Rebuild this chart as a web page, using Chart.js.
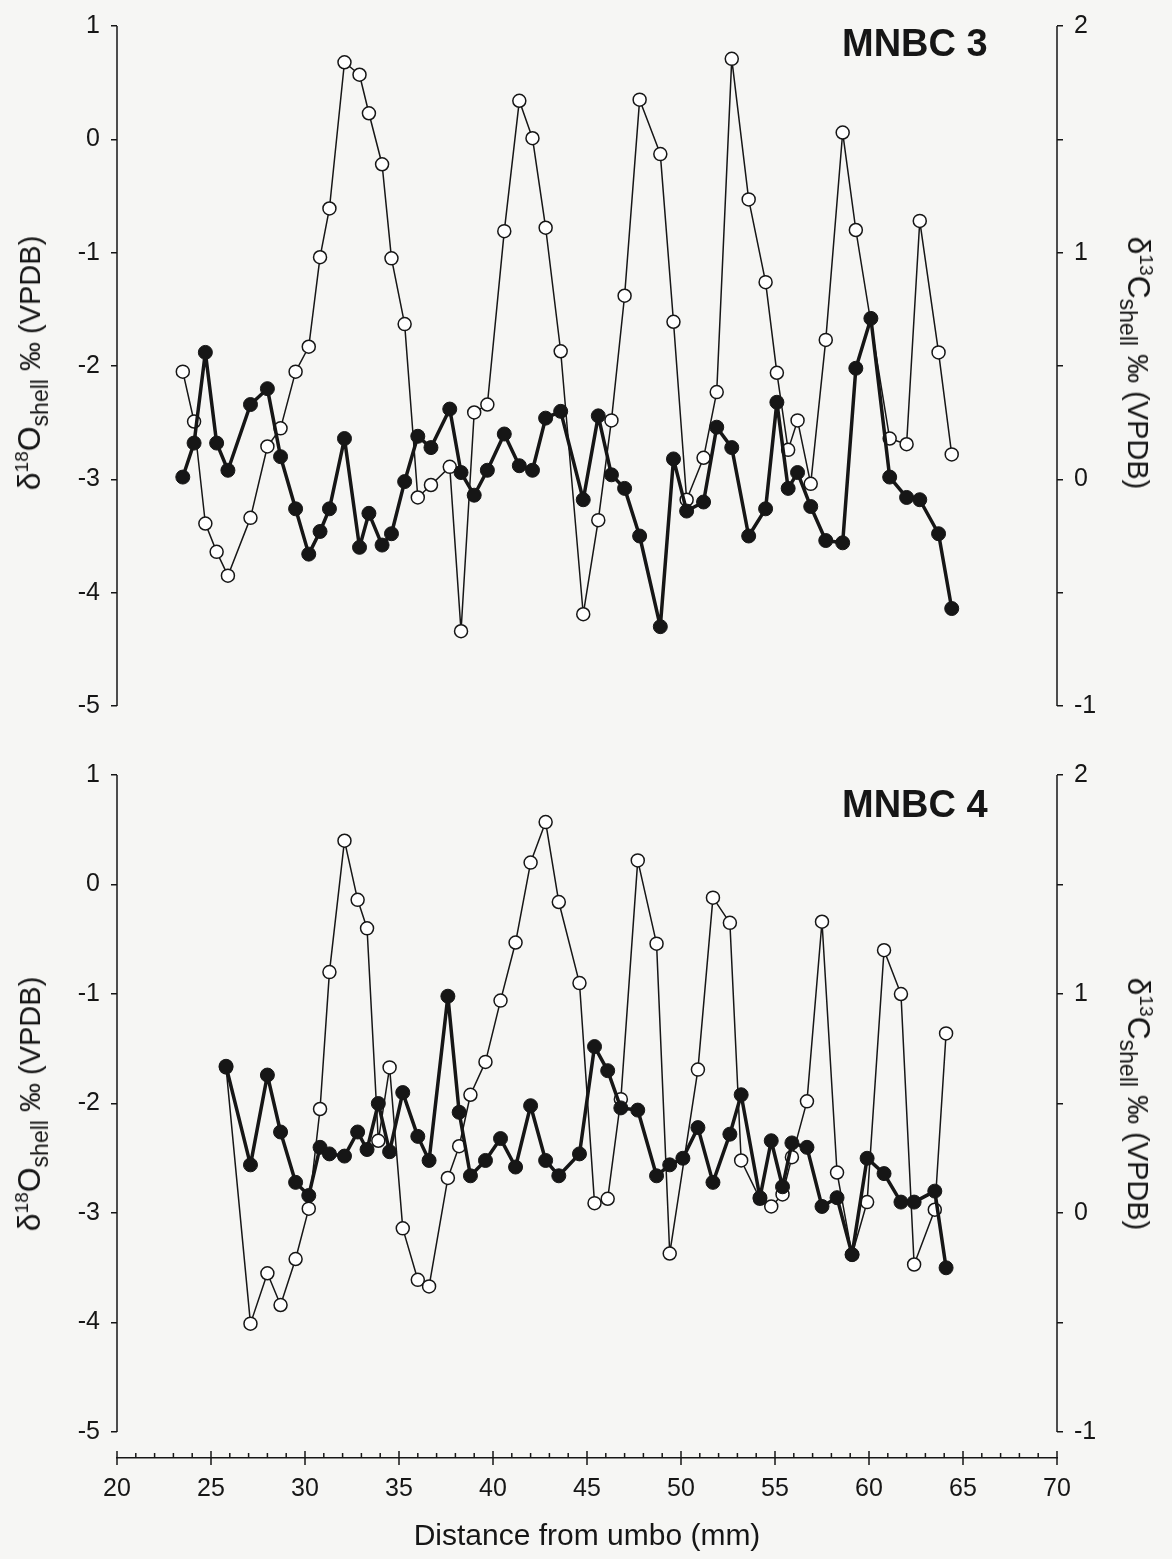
<!DOCTYPE html>
<html>
<head>
<meta charset="utf-8">
<script src="https://cdn.jsdelivr.net/npm/chart.js@4.4.1/dist/chart.umd.min.js"></script>
<style>
  html, body { margin: 0; padding: 0; background: #f6f6f4; }
  #wrap { position: relative; width: 1172px; height: 1559px; overflow: hidden;
          font-family: "Liberation Sans", Arial, sans-serif; color: #161616; }
  canvas { position: absolute; left: 0; }
  .ytitle { position: absolute; white-space: nowrap; font-size: 29px; line-height: 1; }
  .ytitle.left  { transform: translate(-50%, -50%) rotate(-90deg); }
  .ytitle.right { transform: translate(-50%, -50%) rotate(90deg); }
  .ytitle .big { font-size: 32px; }
  .ytitle sup { font-size: 19px; vertical-align: 12px; line-height: 0; }
  .ytitle sub { font-size: 23px; vertical-align: -8px; line-height: 0; }
  .panel { position: absolute; font-weight: bold; font-size: 38px; line-height: 1; }
</style>
</head>
<body>
<div id="wrap">
  <canvas id="top" width="1172" height="740" style="top:0"></canvas>
  <canvas id="bottom" width="1172" height="819" style="top:740px"></canvas>

  <div class="panel" style="left:842px; top:24px">MNBC 3</div>
  <div class="panel" style="left:842px; top:785px">MNBC 4</div>

  <div class="ytitle left" style="left:29px; top:363px"><span class="big">δ<sup>18</sup>O</span><sub>shell</sub> ‰ (VPDB)</div>
  <div class="ytitle right" style="left:1139px; top:363px"><span class="big">δ<sup>13</sup>C</span><sub>shell</sub> ‰ (VPDB)</div>
  <div class="ytitle left" style="left:29px; top:1104px"><span class="big">δ<sup>18</sup>O</span><sub>shell</sub> ‰ (VPDB)</div>
  <div class="ytitle right" style="left:1139px; top:1104px"><span class="big">δ<sup>13</sup>C</span><sub>shell</sub> ‰ (VPDB)</div>
</div>

<script>
// sample positions, mm from umbo (shared by both isotopes of a panel)
const xTop = [23.5, 24.1, 24.7, 25.3, 25.9, 27.1, 28.0, 28.7, 29.5, 30.2,
              30.8, 31.3, 32.1, 32.9, 33.4, 34.1, 34.6, 35.3, 36.0, 36.7,
              37.7, 38.3, 39.0, 39.7, 40.6, 41.4, 42.1, 42.8, 43.6, 44.8,
              45.6, 46.3, 47.0, 47.8, 48.9, 49.6, 50.3, 51.2, 51.9, 52.7,
              53.6, 54.5, 55.1, 55.7, 56.2, 56.9, 57.7, 58.6, 59.3, 60.1,
              61.1, 62.0, 62.7, 63.7, 64.4];
// MNBC 3, d18O (open circles, left axis)
const o18Top = [-2.05, -2.49, -3.39, -3.64, -3.85, -3.34, -2.71, -2.55, -2.05, -1.83,
                -1.04, -0.61, 0.68, 0.57, 0.23, -0.22, -1.05, -1.63, -3.16, -3.05,
                -2.89, -4.34, -2.41, -2.34, -0.81, 0.34, 0.01, -0.78, -1.87, -4.19,
                -3.36, -2.48, -1.38, 0.35, -0.13, -1.61, -3.18, -2.81, -2.23, 0.71,
                -0.53, -1.26, -2.06, -2.74, -2.48, -3.04, -1.77, 0.06, -0.80, null,
                -2.64, -2.69, -0.72, -1.88, -2.78];
// MNBC 3, d13C (filled circles, right axis)
const c13Top = [0.01, 0.16, 0.56, 0.16, 0.04, 0.33, 0.40, 0.10, -0.13, -0.33,
                -0.23, -0.13, 0.18, -0.30, -0.15, -0.29, -0.24, -0.01, 0.19, 0.14,
                0.31, 0.03, -0.07, 0.04, 0.20, 0.06, 0.04, 0.27, 0.30, -0.09,
                0.28, 0.02, -0.04, -0.25, -0.65, 0.09, -0.14, -0.10, 0.23, 0.14,
                -0.25, -0.13, 0.34, -0.04, 0.03, -0.12, -0.27, -0.28, 0.49, 0.71,
                0.01, -0.08, -0.09, -0.24, -0.57];

const xBottom = [25.8, 27.1, 28.0, 28.7, 29.5, 30.2, 30.8, 31.3, 32.1, 32.8,
                 33.3, 33.9, 34.5, 35.2, 36.0, 36.6, 37.6, 38.2, 38.8, 39.6,
                 40.4, 41.2, 42.0, 42.8, 43.5, 44.6, 45.4, 46.1, 46.8, 47.7,
                 48.7, 49.4, 50.1, 50.9, 51.7, 52.6, 53.2, 54.2, 54.8, 55.4,
                 55.9, 56.7, 57.5, 58.3, 59.1, 59.9, 60.8, 61.7, 62.4, 63.5, 64.1];
// MNBC 4
const o18Bottom = [-1.67, -4.01, -3.55, -3.84, -3.42, -2.96, -2.05, -0.80, 0.40, -0.14,
                   -0.40, -2.34, -1.67, -3.14, -3.61, -3.67, -2.68, -2.39, -1.92, -1.62,
                   -1.06, -0.53, 0.20, 0.57, -0.16, -0.90, -2.91, -2.87, -1.96, 0.22,
                   -0.54, -3.37, null, -1.69, -0.12, -0.35, -2.52, -2.87, -2.94, -2.83,
                   -2.49, -1.98, -0.34, -2.63, -3.38, -2.90, -0.60, -1.00, -3.47, -2.97, -1.36];
const c13Bottom = [0.67, 0.22, 0.63, 0.37, 0.14, 0.08, 0.30, 0.27, 0.26, 0.37,
                   0.29, 0.50, 0.28, 0.55, 0.35, 0.24, 0.99, 0.46, 0.17, 0.24,
                   0.34, 0.21, 0.49, 0.24, 0.17, 0.27, 0.76, 0.65, 0.48, 0.47,
                   0.17, 0.22, 0.25, 0.39, 0.14, 0.36, 0.54, 0.07, 0.33, 0.12,
                   0.32, 0.30, 0.03, 0.07, -0.19, 0.25, 0.18, 0.05, 0.05, 0.10, -0.25];

const INK = "#161616";
const FONT = '"Liberation Sans", Arial, sans-serif';

const pts = (xs, ys) => xs.map((x, i) => ({ x, y: ys[i] }));

// y axis lines that stop at the lowest labelled tick, plus x ticks (minor inside, major crossing)
const axisLines = {
  id: "axisLines",
  afterDraw(chart, args, opts) {
    const { ctx, chartArea: a, scales } = chart;
    const yl = scales.yL, yr = scales.yR;
    ctx.save();
    ctx.strokeStyle = INK;
    ctx.lineWidth = 1.5;
    ctx.beginPath();
    ctx.moveTo(a.left, yl.getPixelForValue(yl.max));
    ctx.lineTo(a.left, yl.getPixelForValue(opts.leftEnd));
    ctx.moveTo(a.right, yr.getPixelForValue(yr.max));
    ctx.lineTo(a.right, yr.getPixelForValue(opts.rightEnd));
    if (opts.xTicks) {
      const sx = scales.x, y0 = a.bottom;
      sx.ticks.forEach(t => {
        const px = sx.getPixelForValue(t.value);
        const major = t.value % 5 === 0;
        ctx.moveTo(px, y0 - (major ? 7 : 5));
        ctx.lineTo(px, y0 + (major ? 7 : 0));
      });
    }
    ctx.stroke();
    ctx.restore();
  }
};

function makePanel(id, xs, o18, c13, withX) {
  const tickFont = { size: 25, family: FONT };
  new Chart(document.getElementById(id), {
    type: "scatter",
    data: {
      datasets: [
        { data: pts(xs, c13), yAxisID: "yR", showLine: true, spanGaps: true, order: 0,
          borderColor: INK, borderWidth: 3.5, borderJoinStyle: "round", pointRadius: 7,
          pointBackgroundColor: INK, pointBorderColor: INK, pointBorderWidth: 1 },
        { data: pts(xs, o18), yAxisID: "yL", showLine: true, spanGaps: true, order: 1,
          borderColor: INK, borderWidth: 1.5, borderJoinStyle: "round", pointRadius: 6.5,
          pointBackgroundColor: "#ffffff", pointBorderColor: INK, pointBorderWidth: 1.5 }
      ]
    },
    options: {
      responsive: false, animation: false, devicePixelRatio: 1, events: [],
      layout: { padding: withX ? { top: 35, bottom: 0 } : { top: 20, bottom: 34 } },
      plugins: {
        legend: { display: false }, tooltip: { enabled: false },
        axisLines: { leftEnd: -5, rightEnd: -1, xTicks: withX }
      },
      scales: {
        x: {
          type: "linear", min: 20, max: 70, display: withX,
          ticks: { stepSize: 1, autoSkip: false, maxRotation: 0, padding: 16, color: INK, font: tickFont,
                   callback: v => (v % 5 === 0 ? v : "") },
          grid: { display: false, drawTicks: false },
          border: { display: true, color: INK, width: 1.5 },
          title: { display: true, text: "Distance from umbo (mm)", color: INK,
                   font: { size: 30, family: FONT }, padding: { top: 0, bottom: 4 } },
          afterFit: s => { if (withX) s.height = 101; }
        },
        yL: {
          position: "left", min: withX ? -5.237 : -5, max: 1,
          ticks: { stepSize: 1, includeBounds: false, padding: 11, color: INK, font: tickFont },
          grid: { drawOnChartArea: false, tickLength: 6, color: INK, lineWidth: 1.5 },
          border: { display: false },
          afterFit: s => { s.width = 117; }
        },
        yR: {
          position: "right", min: withX ? -1.1185 : -1, max: 2,
          ticks: { stepSize: 0.5, includeBounds: false, padding: 11, color: INK, font: tickFont,
                   callback: v => (Number.isInteger(v) ? v : "") },
          grid: { drawOnChartArea: false, tickLength: 6, color: INK, lineWidth: 1.5 },
          border: { display: false },
          afterFit: s => { s.width = 115; }
        }
      }
    },
    plugins: [axisLines]
  });
}

makePanel("top", xTop, o18Top, c13Top, false);
makePanel("bottom", xBottom, o18Bottom, c13Bottom, true);
</script>
</body>
</html>
